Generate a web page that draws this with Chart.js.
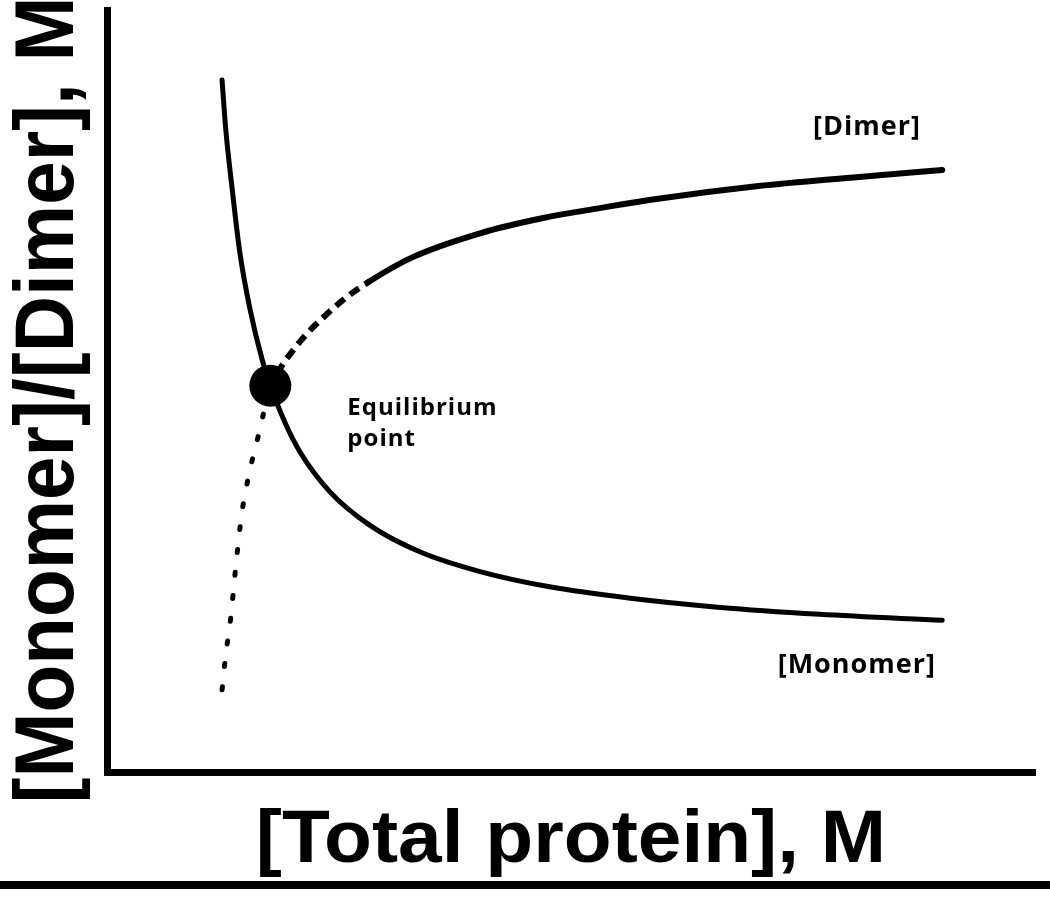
<!DOCTYPE html>
<html>
<head>
<meta charset="utf-8">
<title>Monomer / dimer equilibrium</title>
<script src="https://cdn.jsdelivr.net/npm/chart.js@4.4.0/dist/chart.umd.min.js"></script>
<style>
    html, body { margin: 0; padding: 0; background: #fff; }
    canvas { display: block; }
</style>
</head>
<body>
<canvas id="chart" width="1050" height="903"></canvas>
<script>
// values (arbitrary units, axes run 0..10)
var monomerX = [1.24, 1.28, 1.35, 1.43, 1.54, 1.67, 1.76, 1.92, 2.08, 2.40, 2.83, 3.37, 4.02, 4.77, 5.64, 6.61, 7.68, 9.00];
var monomerY = [9.08, 8.43, 7.64, 6.83, 6.08, 5.42, 5.07, 4.58, 4.20, 3.68, 3.24, 2.89, 2.63, 2.43, 2.28, 2.16, 2.07, 1.99];

var dimerX = [1.24, 1.28, 1.33, 1.39, 1.45, 1.54, 1.63, 1.69, 1.76, 1.86, 1.99, 2.16, 2.30, 2.56, 2.83, 3.30, 4.02, 4.70, 5.31, 5.86, 7.02, 8.01, 9.00];
var dimerY = [1.08, 1.54, 1.99, 2.72, 3.37, 3.96, 4.41, 4.72, 5.01, 5.28, 5.51, 5.76, 5.93, 6.21, 6.44, 6.76, 7.07, 7.27, 7.40, 7.51, 7.69, 7.80, 7.90];

var equilibriumX = [1.76];
var equilibriumY = [5.07];

// dimer curve: dotted up to the equilibrium point, dashed a little past it, then solid
var dimerDottedEnd = 8;
var dimerDashedEnd = 14;

var xTitle = '[Total protein], M';
var yTitle = '[Monomer]/[Dimer], M';
var dimerLabel = '[Dimer]';
var monomerLabel = '[Monomer]';
var pointLabel = ['Equilibrium', 'point'];

function toPoints(xs, ys) {
    var pts = [];
    for (var i = 0; i < xs.length; i++) {
        pts.push({ x: xs[i], y: ys[i] });
    }
    return pts;
}

function drawScaledText(ctx, text, x, y, font, sx, rot, align, spacing) {
    ctx.save();
    ctx.translate(x, y);
    ctx.rotate(rot);
    ctx.scale(sx, 1);
    ctx.font = font;
    ctx.letterSpacing = spacing || '0px';
    ctx.fillStyle = '#000';
    ctx.textAlign = align || 'center';
    ctx.textBaseline = 'alphabetic';
    ctx.fillText(text, 0, 0);
    ctx.restore();
}

var figureText = {
    id: 'figureText',
    afterDraw: function (chart) {
        var ctx = chart.ctx;
        var xs = chart.scales.x;
        var ys = chart.scales.y;

        // axis titles
        drawScaledText(ctx, yTitle, 73, 400, 'bold 84px "Liberation Sans"', 0.93, -Math.PI / 2);
        drawScaledText(ctx, xTitle, 571, 862, 'bold 74px "Liberation Sans"', 1.06, 0);

        // curve labels
        var labelFont = 'bold 27px "Open Sans"';
        drawScaledText(ctx, dimerLabel, xs.getPixelForValue(8.19), ys.getPixelForValue(8.36), labelFont, 1, 0, 'center', '1px');
        drawScaledText(ctx, monomerLabel, xs.getPixelForValue(8.08), ys.getPixelForValue(1.30), labelFont, 1, 0, 'center', '1px');
        var px = xs.getPixelForValue(2.59);
        var py = ys.getPixelForValue(4.69);
        drawScaledText(ctx, pointLabel[0], px, py, 'bold 24px "Open Sans"', 1, 0, 'left', '1px');
        drawScaledText(ctx, pointLabel[1], px, py + 31, 'bold 24px "Open Sans"', 1, 0, 'left', '1px');

        // rule under the figure
        ctx.save();
        ctx.fillStyle = '#000';
        ctx.fillRect(0, 881, chart.width, 8);
        ctx.restore();
    }
};

var ctx = document.getElementById('chart');
var chart = new Chart(ctx, {
    type: 'line',
    data: {
        datasets: [
            {
                type: 'scatter',
                label: 'Equilibrium point',
                data: toPoints(equilibriumX, equilibriumY),
                pointRadius: 21,
                pointBackgroundColor: '#000',
                pointBorderWidth: 0,
                showLine: false,
                order: 0
            },
            {
                label: 'Monomer',
                data: toPoints(monomerX, monomerY),
                borderColor: '#000',
                borderWidth: 5,
                borderCapStyle: 'round',
                pointRadius: 0,
                cubicInterpolationMode: 'monotone',
                fill: false,
                order: 1
            },
            {
                label: 'Dimer',
                data: toPoints(dimerX, dimerY),
                borderColor: '#000',
                borderWidth: 6,
                borderCapStyle: 'round',
                pointRadius: 0,
                cubicInterpolationMode: 'monotone',
                fill: false,
                order: 1,
                segment: {
                    borderDash: function (c) {
                        if (c.p1DataIndex <= dimerDottedEnd) return [3, 20];
                        if (c.p1DataIndex <= dimerDashedEnd) return [11, 7];
                        return [];
                    },
                    borderWidth: function (c) {
                        return c.p1DataIndex <= dimerDottedEnd ? 5 : 6;
                    },
                    borderCapStyle: function (c) {
                        if (c.p1DataIndex <= dimerDottedEnd) return 'round';
                        if (c.p1DataIndex <= dimerDashedEnd) return 'butt';
                        return 'round';
                    }
                }
            }
        ]
    },
    options: {
        responsive: false,
        animation: false,
        devicePixelRatio: 1,
        layout: {
            autoPadding: false,
            padding: { left: 107, right: 15, top: 10, bottom: 131 }
        },
        plugins: {
            legend: { display: false },
            tooltip: { enabled: false }
        },
        scales: {
            x: {
                type: 'linear',
                min: 0,
                max: 10,
                grid: { display: false, drawTicks: false },
                ticks: { display: false },
                border: { display: true, color: '#000', width: 7 }
            },
            y: {
                type: 'linear',
                min: 0,
                max: 10,
                grid: { display: false, drawTicks: false },
                ticks: { display: false },
                border: { display: true, color: '#000', width: 7 }
            }
        }
    },
    plugins: [figureText]
});
</script>
</body>
</html>
